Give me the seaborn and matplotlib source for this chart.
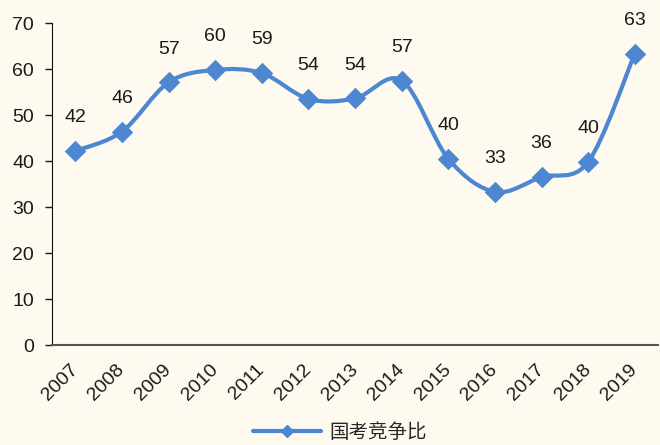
import numpy as np
import pandas as pd
import matplotlib.pyplot as plt
import seaborn as sns
from matplotlib.path import Path
from matplotlib.patches import PathPatch
from matplotlib.lines import Line2D

sns.set_style("white")
plt.rcParams['font.family'] = ['Liberation Sans', 'Noto Sans CJK SC', 'DejaVu Sans']

years = ['2007', '2008', '2009', '2010', '2011', '2012', '2013',
         '2014', '2015', '2016', '2017', '2018', '2019']
ratio = [42.2, 46.4, 57.1, 59.8, 59.1, 53.5, 53.6, 57.5, 40.5, 33.3, 36.5, 39.8, 63.3]
labels = ['42', '46', '57', '60', '59', '54', '54', '57', '40', '33', '36', '40', '63']
series_name = '国考竞争比'

bg = '#FEFAF0'
blue = '#4D87D2'
fs = 14

df = pd.DataFrame({'year': years, 'ratio': ratio})
df['pos'] = np.arange(len(df))

fig = plt.figure(figsize=(6.6, 4.45), dpi=100, facecolor=bg)
ax = fig.add_axes([0.079, 0.2247, 0.918, 0.7236])
ax.set_facecolor(bg)

# smoothed line (Catmull-Rom style bezier like Excel)
x = df['pos'].to_numpy(float)
y = df['ratio'].to_numpy(float)
verts = [(x[0], y[0])]
codes = [Path.MOVETO]
n = len(x)
for i in range(n - 1):
    x0, y0 = (x[i - 1], y[i - 1]) if i > 0 else (x[i], y[i])
    x3, y3 = (x[i + 2], y[i + 2]) if i + 2 < n else (x[i + 1], y[i + 1])
    c1 = (x[i] + (x[i + 1] - x0) / 6, y[i] + (y[i + 1] - y0) / 6)
    c2 = (x[i + 1] - (x3 - x[i]) / 6, y[i + 1] - (y3 - y[i]) / 6)
    verts += [c1, c2, (x[i + 1], y[i + 1])]
    codes += [Path.CURVE4] * 3
ax.add_patch(PathPatch(Path(verts, codes), facecolor='none', edgecolor=blue,
                       lw=3, capstyle='round', joinstyle='round', zorder=2))

sns.scatterplot(data=df, x='pos', y='ratio', marker='D', s=120, color=blue,
                edgecolor=blue, linewidth=0, ax=ax, zorder=3, legend=False)

for xi, yi, lab in zip(x, y, labels):
    ax.annotate(lab, (xi, yi), xytext=(0, 24), textcoords='offset points',
                ha='center', va='center', fontsize=fs, color='#1a1a1a',
                annotation_clip=False)

ax.set_xlim(-0.5, n - 0.5)
ax.set_ylim(0, 70)
ax.set_yticks(range(0, 71, 10))
ax.set_xticks(x)
ax.set_xticklabels(years, rotation=45, ha='right', va='center', rotation_mode='anchor')
ax.set_xticks(np.arange(-0.5, n, 1), minor=True)
ax.tick_params(axis='x', which='major', length=0, pad=16, labelsize=fs, colors='#1a1a1a')
ax.tick_params(axis='x', which='minor', length=5, width=1, direction='out', color='#444444')
ax.tick_params(axis='y', length=5, width=1, direction='out', labelsize=fs, pad=8,
               colors='#1a1a1a', left=True)
ax.set_xlabel('')
ax.set_ylabel('')
for s in ['top', 'right']:
    ax.spines[s].set_visible(False)
ax.spines['left'].set_color('#111111')
ax.spines['bottom'].set_color('#555555')
ax.spines['bottom'].set_linewidth(1.5)

handle = Line2D([0], [0], color=blue, lw=3, marker='D', markersize=6)
fig.legend([handle], [series_name], loc='center', bbox_to_anchor=(0.515, 0.028),
           frameon=False, fontsize=fs, handlelength=3.5, handletextpad=0.4,
           borderpad=0.1)

fig.savefig('out.png', dpi=100, facecolor=bg)
